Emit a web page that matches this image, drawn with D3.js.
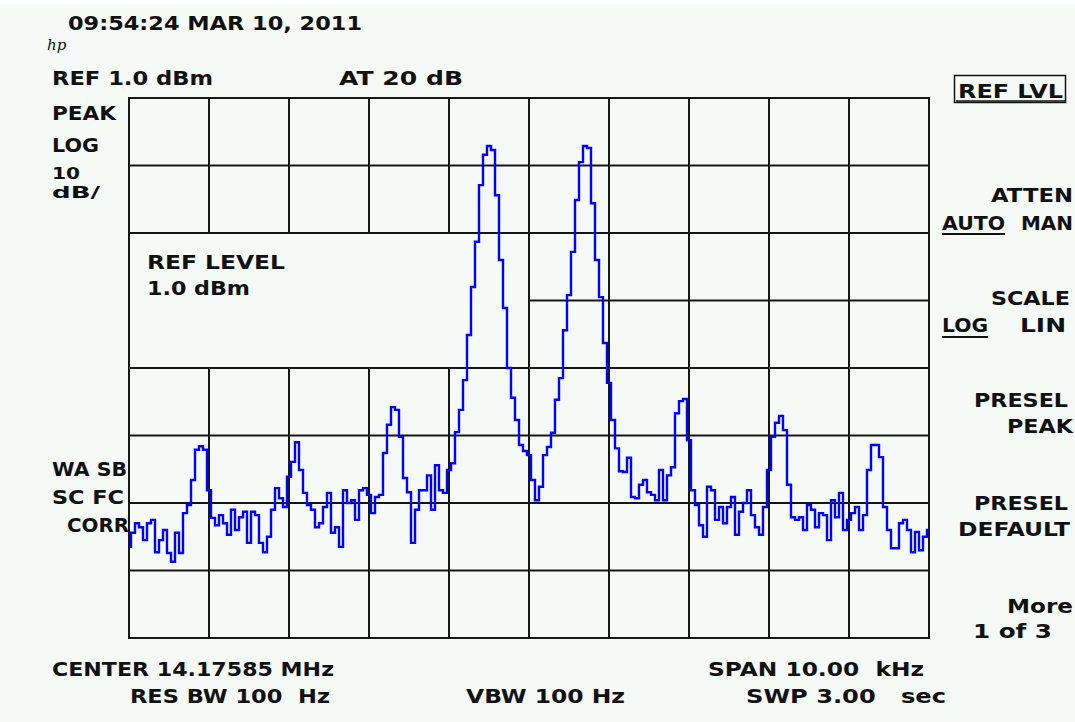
<!DOCTYPE html>
<html>
<head>
<meta charset="utf-8">
<script src="https://cdn.jsdelivr.net/npm/d3@7"></script>
<style>
  body { margin: 0; background: #f5faf7; }
  svg text { font-family: "DejaVu Sans", sans-serif; font-weight: bold; font-size: 20px; fill: #111; white-space: pre; }
</style>
</head>
<body>
<div id="screen"></div>
<script>
// instrument settings
var centerMHz = 14.17585,
    spanKHz = 10,
    refLevel = 1.0,
    dbPerDiv = 10,
    divsX = 10,
    divsY = 8;

// trace, dBm, 201 points evenly across the span
var traceDbm = [
  -65.5, -63.4, -62.0, -62.6, -64.5, -62.0, -61.5, -66.3, -64.5, -63.0,
  -66.4, -67.7, -63.4, -66.4, -60.5, -59.3, -55.6, -51.1, -50.6, -51.1,
  -57.1, -61.2, -62.3, -60.8, -62.0, -63.7, -60.0, -63.0, -61.1, -60.3,
  -64.9, -60.3, -60.8, -64.9, -66.3, -64.0, -60.0, -56.8, -58.3, -59.6,
  -55.1, -52.9, -50.0, -54.1, -57.5, -59.3, -60.0, -62.6, -62.0, -59.6,
  -57.5, -63.4, -62.6, -65.5, -57.1, -59.0, -58.6, -61.5, -57.1, -56.8,
  -57.8, -60.5, -58.1, -57.8, -51.6, -47.4, -44.8, -45.2, -49.2, -55.3,
  -57.4, -64.9, -60.0, -57.1, -57.1, -54.9, -60.0, -53.4, -57.1, -57.5,
  -54.1, -53.1, -48.5, -45.2, -40.8, -34.1, -27.0, -20.3, -11.9, -7.4,
  -6.1, -6.7, -13.4, -23.0, -30.1, -39.0, -43.4, -46.7, -50.4, -51.3,
  -51.9, -55.6, -58.6, -56.6, -51.9, -50.7, -48.6, -43.7, -40.5, -33.4,
  -28.2, -21.8, -14.1, -8.5, -6.1, -6.4, -14.6, -23.0, -28.5, -35.3,
  -41.2, -46.7, -50.9, -54.3, -54.4, -52.3, -58.1, -58.3, -56.3, -55.6,
  -57.4, -57.8, -58.6, -54.1, -58.6, -54.9, -53.7, -45.7, -43.9, -43.6,
  -49.7, -57.1, -59.3, -62.3, -64.0, -56.6, -57.1, -61.5, -59.6, -62.0,
  -59.6, -58.1, -63.7, -60.3, -59.0, -57.1, -60.8, -62.6, -63.7, -59.6,
  -54.1, -49.2, -47.1, -46.1, -48.2, -56.3, -61.1, -61.5, -61.1, -63.0,
  -59.3, -60.0, -62.6, -60.5, -60.8, -64.5, -58.6, -61.1, -57.5, -63.0,
  -61.5, -60.5, -59.6, -63.0, -60.8, -54.1, -50.4, -50.4, -52.2, -59.6,
  -63.0, -65.7, -65.7, -62.0, -61.5, -63.0, -66.3, -63.3, -66.0, -64.0,
  -63.0
];

var W = 1075, H = 722,
    plot = {left: 129, top: 98, width: 800, height: 540};

var x = d3.scaleLinear()
    .domain([-spanKHz / 2, spanKHz / 2])
    .range([plot.left, plot.left + plot.width]);
var y = d3.scaleLinear()
    .domain([refLevel - dbPerDiv * divsY, refLevel])
    .range([plot.top + plot.height, plot.top]);

var freqs = traceDbm.map(function(d, i) { return -spanKHz / 2 + i * spanKHz / (traceDbm.length - 1); });
var xDivs = d3.range(divsX + 1).map(function(i) { return -spanKHz / 2 + i * spanKHz / divsX; });
var yDivs = d3.range(divsY + 1).map(function(i) { return refLevel - i * dbPerDiv; });

var svg = d3.select("#screen").append("svg")
    .attr("width", W)
    .attr("height", H);

svg.append("rect").attr("width", W).attr("height", H).attr("fill", "#f5faf7");
svg.append("rect").attr("width", W).attr("height", 5).attr("fill", "#ffffff");

// graticule
var grid = svg.append("g").attr("stroke", "#161616").attr("stroke-width", 2);
grid.selectAll("line.v").data(xDivs).enter().append("line")
    .attr("class", "v")
    .attr("x1", function(d) { return x(d); }).attr("x2", function(d) { return x(d); })
    .attr("y1", y.range()[1]).attr("y2", y.range()[0]);
grid.selectAll("line.h").data(yDivs).enter().append("line")
    .attr("class", "h")
    .attr("x1", x.range()[0] - 1).attr("x2", x.range()[1] + 1)
    .attr("y1", function(d) { return y(d); }).attr("y2", function(d) { return y(d); });

// ref level annotation window blanks part of the graticule
svg.append("rect")
    .attr("x", x(-spanKHz / 2) + 1)
    .attr("y", y(refLevel - 2 * dbPerDiv) + 1)
    .attr("width", x(0) - x(-spanKHz / 2) - 2)
    .attr("height", y(refLevel - 4 * dbPerDiv) - y(refLevel - 2 * dbPerDiv) - 2)
    .attr("fill", "#f5faf7");

svg.append("clipPath").attr("id", "clip")
  .append("rect")
    .attr("x", plot.left).attr("y", plot.top)
    .attr("width", plot.width).attr("height", plot.height);

var line = d3.line()
    .x(function(d, i) { return x(freqs[i]); })
    .y(function(d) { return y(d); })
    .curve(d3.curveStep);

svg.append("path")
    .datum(traceDbm)
    .attr("clip-path", "url(#clip)")
    .attr("fill", "none")
    .attr("stroke", "#0000ff")
    .attr("stroke-width", 2.4)
    .attr("d", line);

// screen annotations
function label(txt, px, py, width, size) {
  var t = svg.append("text")
      .attr("x", px).attr("y", py)
      .attr("textLength", width)
      .attr("lengthAdjust", "spacingAndGlyphs")
      .text(txt);
  if (size) t.style("font-size", size + "px");
  return t;
}

label("09:54:24 MAR 10, 2011", 68, 30, 294);
label("REF " + refLevel.toFixed(1) + " dBm", 52, 85, 161);
label("AT 20 dB", 339, 85, 124);
label("PEAK", 52, 120, 64);
label("LOG", 52, 152, 47);
label(String(dbPerDiv), 52, 179, 28, 16);
label("dB/", 52, 198, 48, 16);
label("REF LEVEL", 147, 269, 138);
label(refLevel.toFixed(1) + " dBm", 147, 295, 103);
label("WA SB", 52, 476, 75);
label("SC FC", 52, 504, 72);
label("CORR", 67, 532, 62);
label("CENTER " + centerMHz.toFixed(5) + " MHz", 52, 676, 282);
label("RES BW 100  Hz", 130, 703, 200);
label("VBW 100 Hz", 466, 703, 159);
label("SPAN " + spanKHz.toFixed(2) + "  kHz", 708, 676, 216);
label("SWP 3.00   sec", 746, 703, 200);

// hp logo
svg.append("text")
    .attr("x", 47).attr("y", 50)
    .style("font-family", "DejaVu Serif")
    .style("font-style", "italic")
    .style("font-size", "15px")
    .style("font-weight", "normal")
    .text("hp");

// softkey labels
svg.append("rect")
    .attr("x", 954.5).attr("y", 75.5).attr("width", 111).attr("height", 27)
    .attr("fill", "none").attr("stroke", "#111").attr("stroke-width", 1.5);
svg.append("line")
    .attr("x1", 956).attr("x2", 1066).attr("y1", 101).attr("y2", 101)
    .attr("stroke", "#111").attr("stroke-width", 1.5);
label("REF LVL", 958, 98, 105);
label("ATTEN", 991, 202, 82);
label("AUTO", 942, 230, 63);
label("MAN", 1021, 230, 52);
label("SCALE", 991, 305, 79);
label("LOG", 942, 332, 46);
label("LIN", 1020, 332, 46);
label("PRESEL", 974, 407, 94);
label("PEAK", 1007, 433, 66);
label("PRESEL", 974, 510, 94);
label("DEFAULT", 958, 536, 112);
label("More", 1007, 613, 66);
label("1 of 3", 973, 638, 79);

svg.selectAll("line.ul")
    .data([[942, 1005, 234], [942, 988, 337]])
  .enter().append("line")
    .attr("class", "ul")
    .attr("x1", function(d) { return d[0]; }).attr("x2", function(d) { return d[1]; })
    .attr("y1", function(d) { return d[2]; }).attr("y2", function(d) { return d[2]; })
    .attr("stroke", "#111").attr("stroke-width", 2);
</script>
</body>
</html>
